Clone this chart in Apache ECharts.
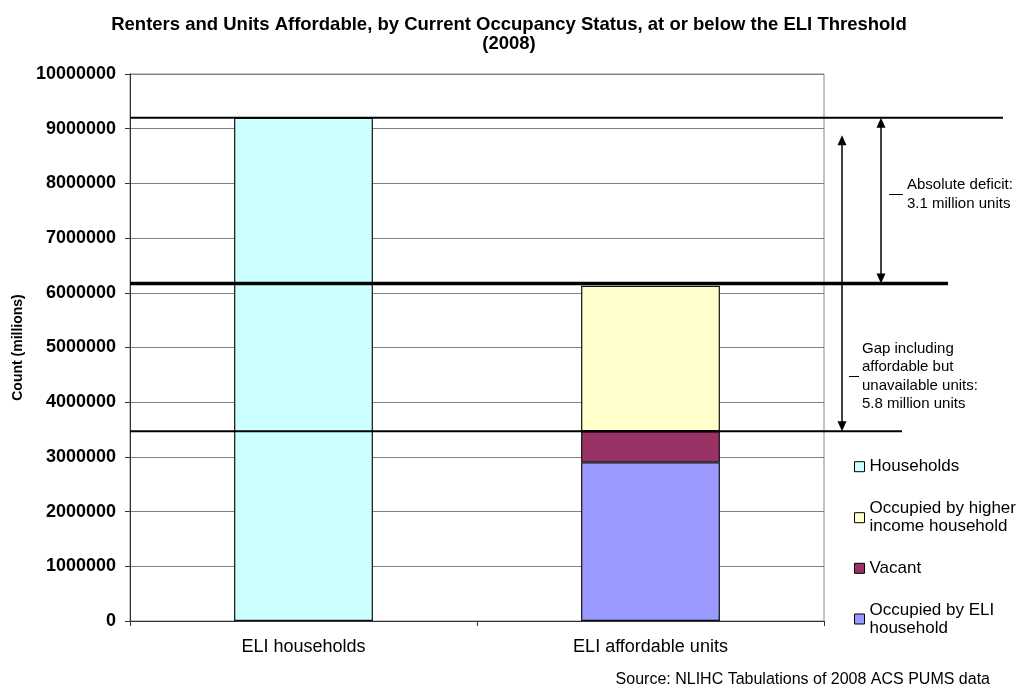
<html lang="en">
<head>
  <meta charset="UTF-8">
  <title>Renters and Units Affordable</title>
  <style>
    body { margin: 0; background: #fff; }
    #chart { width: 1018px; height: 690px; }
  </style>
</head>
<body>
  <div id="chart"></div>
  <script src="https://cdn.jsdelivr.net/npm/echarts@6/dist/echarts.min.js"></script>
  <script>
    var categories = ['ELI households', 'ELI affordable units']
    var households = [9200000, '-']
    var occupiedEli = ['-', 2900000]
    var vacant = ['-', 570000]
    var occupiedHigher = ['-', 2660000]
    var legendNames = ['Households', 'Occupied by higher income household', 'Vacant', 'Occupied by ELI household']
    // annotation values: households total, affordable units total, available units
    var refLines = [9200000, 6170000, 3470000]
    var deficitArrow = [9200000, 6170000]
    var gapArrow = [8880000, 3470000]
    var notes = ['Absolute deficit:\n3.1 million units', 'Gap including\naffordable but\nunavailable units:\n5.8 million units']

    var font = "'Liberation Sans', Arial, sans-serif"
    var chart = echarts.init(document.getElementById('chart'))

    function legendItem(name, top, label) {
      var twoLine = label.indexOf('\n') >= 0
      return {
        data: [name],
        orient: 'vertical',
        left: 854,
        top: top,
        padding: 0,
        icon: 'rect',
        itemWidth: 10,
        itemHeight: 10,
        selectedMode: false,
        itemStyle: { borderColor: '#000', borderWidth: 1 },
        formatter: function () { return label },
        textStyle: {
          fontFamily: font, fontSize: 17, lineHeight: 18, color: '#000',
          padding: twoLine ? [18, 0, 0, 0] : 0
        }
      }
    }

    function bar(name, data, color) {
      return {
        name: name,
        type: 'bar',
        stack: 'total',
        barWidth: '40%',
        data: data,
        itemStyle: { color: color, borderColor: '#111', borderWidth: 1.2 },
        emphasis: { disabled: true }
      }
    }

    var option = {
      animation: false,
      title: [
        {
          text: 'Renters and Units Affordable, by Current Occupancy Status, at or below the ELI Threshold\n(2008)',
          left: 'center',
          top: 15,
          padding: 0,
          textStyle: { fontFamily: font, fontSize: 18.5, fontWeight: 'bold', lineHeight: 19, color: '#000' }
        },
        {
          text: 'Source: NLIHC Tabulations of 2008 ACS PUMS data',
          right: 28,
          top: 671,
          padding: 0,
          textStyle: { fontFamily: font, fontSize: 16, fontWeight: 'normal', lineHeight: 18, color: '#000' }
        }
      ],
      legend: [
        legendItem(legendNames[0], 457.7, 'Households'),
        legendItem(legendNames[1], 490.7, 'Occupied by higher\nincome household'),
        legendItem(legendNames[2], 559.3, 'Vacant'),
        legendItem(legendNames[3], 592, 'Occupied by ELI\nhousehold')
      ],
      grid: {
        left: 130, right: 194, top: 74, bottom: 69,
        outerBoundsMode: 'none',
        containLabel: false,
        show: true, borderColor: '#888', borderWidth: 1
      },
      xAxis: {
        type: 'category',
        data: categories,
        axisLine: { lineStyle: { color: '#333', width: 1 } },
        axisTick: { show: true, length: 5, lineStyle: { color: '#333' } },
        axisLabel: { fontFamily: font, fontSize: 18, lineHeight: 18, color: '#000', margin: 17 }
      },
      yAxis: {
        type: 'value',
        min: 0,
        max: 10000000,
        interval: 1000000,
        name: 'Count (millions)',
        nameLocation: 'middle',
        nameRotate: 90,
        nameGap: 105,
        nameTextStyle: { fontFamily: font, fontSize: 14, fontWeight: 'bold', color: '#000' },
        axisLine: { show: true, lineStyle: { color: '#333', width: 1 } },
        axisTick: { show: true, length: 5, lineStyle: { color: '#333' } },
        axisLabel: {
          fontFamily: font, fontSize: 18, fontWeight: 'bold', color: '#000', margin: 14,
          formatter: function (v) { return String(v) }
        },
        splitLine: { lineStyle: { color: '#808080', width: 1 } }
      },
      series: [
        bar(legendNames[0], households, '#CCFFFF'),
        bar(legendNames[3], occupiedEli, '#9999FF'),
        bar(legendNames[2], vacant, '#993366'),
        bar(legendNames[1], occupiedHigher, '#FFFFCC')
      ]
    }
    chart.setOption(option)

    // annotations placed through the value axis
    function yPx(v) { return chart.convertToPixel({ yAxisIndex: 0 }, v) }
    var lineEnds = [1003, 948, 902]
    var lineWidths = [2, 3.5, 2]
    var elements = []
    refLines.forEach(function (v, i) {
      var y = yPx(v)
      elements.push({
        type: 'line', z: 100,
        shape: { x1: 130, y1: y, x2: lineEnds[i], y2: y },
        style: { stroke: '#000', lineWidth: lineWidths[i] }
      })
    })
    function arrow(x, v1, v2) {
      var y1 = yPx(v1), y2 = yPx(v2)
      elements.push(
        { type: 'line', z: 100, shape: { x1: x, y1: y1 + 8, x2: x, y2: y2 - 8 }, style: { stroke: '#000', lineWidth: 1.5 } },
        { type: 'polygon', z: 100, shape: { points: [[x, y1], [x - 4.5, y1 + 10], [x + 4.5, y1 + 10]] }, style: { fill: '#000' } },
        { type: 'polygon', z: 100, shape: { points: [[x, y2], [x - 4.5, y2 - 10], [x + 4.5, y2 - 10]] }, style: { fill: '#000' } }
      )
    }
    arrow(881, deficitArrow[0], deficitArrow[1])
    arrow(842, gapArrow[0], gapArrow[1])

    function note(text, x, y, dashX1, dashX2) {
      elements.push(
        { type: 'line', z: 100, shape: { x1: dashX1, y1: y, x2: dashX2, y2: y }, style: { stroke: '#000', lineWidth: 1 } },
        {
          type: 'text', z: 100, x: x, y: y,
          style: { text: text, font: '15px ' + font, lineHeight: 18.5, fill: '#000', verticalAlign: 'middle', align: 'left' }
        }
      )
    }
    note(notes[0], 907, 194.5, 889, 903)
    note(notes[1], 862, 376.5, 849, 859)

    chart.setOption({ graphic: { elements: elements } })
  </script>
</body>
</html>
